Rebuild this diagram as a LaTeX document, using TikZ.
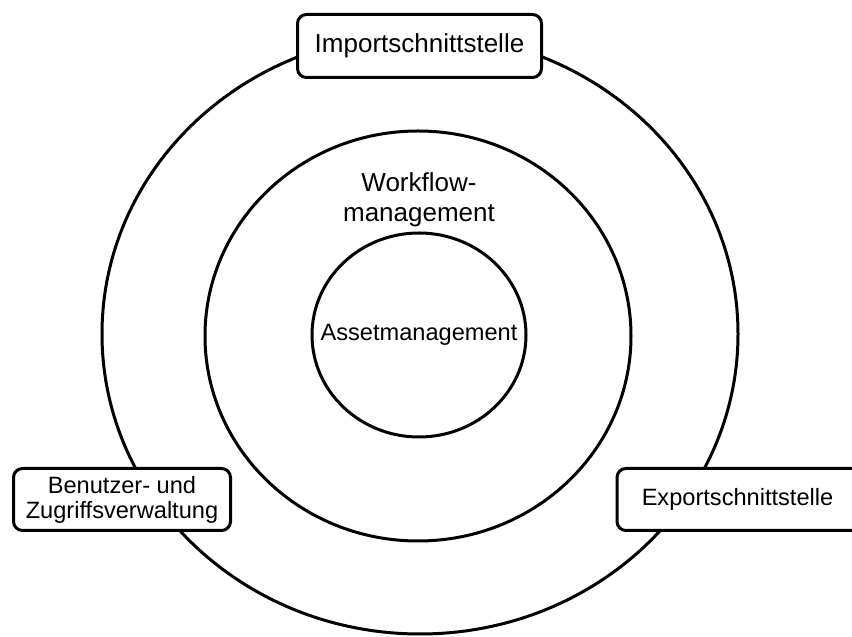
\documentclass[tikz,border=0pt]{standalone}
\usepackage{fontspec}
\setmainfont{Liberation Sans}
\begin{document}
\begin{tikzpicture}[x=1pt,y=1pt,
  ring/.style={line width=3pt},
  labelbox/.style={draw, line width=3pt, rounded corners=9pt, fill=white,
    inner sep=0pt, align=center},
  bigtext/.style={font=\fontsize{26}{30}\selectfont, align=center, inner sep=0pt},
  smalltext/.style={font=\fontsize{23.6}{25}\selectfont, align=center, inner sep=0pt},
]
\clip (0,0) rectangle (852,637);
\useasboundingbox (0,0) rectangle (852,637);

% three nested rings
\draw[ring] (420,303) ellipse [x radius=318, y radius=300];
\draw[ring] (418,301) ellipse [x radius=213, y radius=205];
\draw[ring] (419,302) ellipse [x radius=107, y radius=102];

% ring labels
\node[bigtext] (workflow) at (419,437) {Workflow-\\management};
\node[smalltext] (asset) at (419,302) {Assetmanagement};

% interface boxes sitting on the outer ring
\node[labelbox, bigtext, minimum width=244, minimum height=63] (import)
  at (419.5,591) {Importschnittstelle};
\node[labelbox, smalltext, minimum width=217, minimum height=62] (users)
  at (122,137.5) {Benutzer- und\\Zugriffsverwaltung};
\node[labelbox, minimum width=265, minimum height=62, anchor=west] (exportbox)
  at (615.5,137.5) {};
\node[smalltext] (export) at (737.5,137.5) {Exportschnittstelle};
\end{tikzpicture}
\end{document}
